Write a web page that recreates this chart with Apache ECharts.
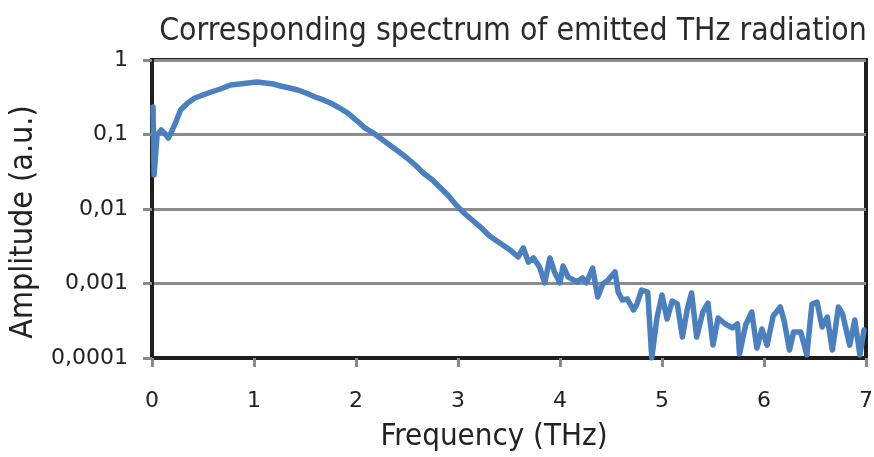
<!DOCTYPE html>
<html><head><meta charset="utf-8">
<script src="https://cdn.jsdelivr.net/npm/echarts@6/dist/echarts.min.js"></script>
<style>html,body{margin:0;padding:0;background:#fff}#c{width:874px;height:457px}</style>
</head><body><div id="c"></div>
<script>
const titleText = "Corresponding spectrum of emitted THz radiation";
const xName = "Frequency (THz)";
const yName = "Amplitude (a.u.)";
const yTickLabels = {"1":"1","0.1":"0,1","0.01":"0,01","0.001":"0,001","0.0001":"0,0001"};
const freq = [0.01,0.02,0.05,0.09,0.13,0.16,0.20,0.23,0.28,0.35,0.42,0.50,0.58,0.67,0.77,0.86,0.94,1.03,1.11,1.19,1.26,1.35,1.43,1.51,1.60,1.68,1.75,1.84,1.92,2.01,2.09,2.17,2.25,2.33,2.41,2.50,2.58,2.66,2.75,2.82,2.90,2.99,3.07,3.15,3.24,3.31,3.41,3.51,3.59,3.64,3.69,3.74,3.80,3.85,3.90,3.95,4.00,4.03,4.08,4.17,4.22,4.26,4.32,4.37,4.42,4.47,4.54,4.57,4.61,4.66,4.72,4.75,4.80,4.86,4.90,4.95,5.00,5.05,5.10,5.15,5.20,5.25,5.29,5.34,5.40,5.45,5.50,5.55,5.62,5.69,5.74,5.76,5.82,5.88,5.93,5.98,6.03,6.09,6.16,6.20,6.25,6.29,6.36,6.42,6.47,6.52,6.57,6.62,6.67,6.73,6.77,6.84,6.89,6.94,6.98];
const amp = [0.234,0.0286,0.0985,0.115,0.1016,0.0897,0.115,0.1426,0.213,0.265,0.309,0.339,0.372,0.408,0.462,0.476,0.491,0.507,0.491,0.476,0.448,0.421,0.396,0.361,0.319,0.291,0.265,0.227,0.194,0.152,0.122,0.1047,0.0871,0.0723,0.0601,0.0484,0.0390,0.0304,0.0245,0.0197,0.0154,0.01096,0.00857,0.00690,0.00540,0.00434,0.00350,0.00282,0.00227,0.00300,0.00194,0.00220,0.00166,0.00102,0.00220,0.00138,0.00102,0.00172,0.00122,0.00105,0.00119,0.00102,0.00161,0.000659,0.000985,0.00111,0.00143,0.000769,0.000601,0.000620,0.000441,0.000514,0.000818,0.000769,0.0001,0.000344,0.000701,0.000333,0.000582,0.000531,0.000191,0.000469,0.000745,0.000191,0.000414,0.000547,0.000149,0.000344,0.000286,0.000253,0.000286,0.000113,0.000277,0.000414,0.000136,0.000245,0.000149,0.000366,0.000484,0.000304,0.000128,0.000223,0.000223,0.000110,0.000531,0.000565,0.000261,0.000355,0.000128,0.000484,0.000390,0.000149,0.000324,0.000110,0.000238];
const data = freq.map((f,i)=>[f, amp[i]]);
const NARROW = "'DejaVu Sans Condensed', 'DejaVu Sans', sans-serif";
const TICKF = "'DejaVu Sans', sans-serif";
const chart = echarts.init(document.getElementById('c'), null, {renderer:'canvas'});
chart.setOption({
  animation:false,
  backgroundColor:'#fff',
  title:{text:titleText,left:508,textAlign:'center',top:11,textStyle:{fontFamily:NARROW,fontSize:31.7,fontWeight:'normal',color:'#2b2b2b'}},
  grid:{left:152,right:8,top:60,bottom:99,show:true,borderColor:'#1e1e1e',borderWidth:4,backgroundColor:'transparent',outerBoundsMode:'none',containLabel:false},
  xAxis:{type:'value',min:0,max:7,interval:1,name:xName,nameLocation:'middle',nameGap:63,
    nameTextStyle:{fontFamily:NARROW,fontSize:31,color:'#222',padding:[0,30,0,0]},
    axisLine:{show:true,lineStyle:{color:'#1e1e1e',width:4}},
    axisTick:{show:true,length:9,lineStyle:{color:'#8a8a8a',width:3}},
    axisLabel:{margin:32,fontFamily:TICKF,fontSize:22,color:'#222'},
    splitLine:{show:false}},
  yAxis:{type:'log',logBase:10,min:0.0001,max:1,name:yName,nameLocation:'middle',nameGap:110,
    nameTextStyle:{fontFamily:NARROW,fontSize:32,color:'#222',padding:[0,26,0,0]},
    axisLine:{show:true,lineStyle:{color:'#1e1e1e',width:4}},
    axisTick:{show:true,length:9,lineStyle:{color:'#8a8a8a',width:3}},
    axisLabel:{margin:24,fontFamily:TICKF,fontSize:22,color:'#222',formatter:v=>{const k=String(+v.toPrecision(3));return yTickLabels[k]!==undefined?yTickLabels[k]:k;}},
    splitLine:{show:true,lineStyle:{color:'#8c8c8c',width:3}}},
  series:[{type:'line',data:data,showSymbol:false,smooth:false,clip:true,
    lineStyle:{color:'#4a7fc0',width:5.5,join:'round',cap:'round'}}]
});
</script></body></html>
